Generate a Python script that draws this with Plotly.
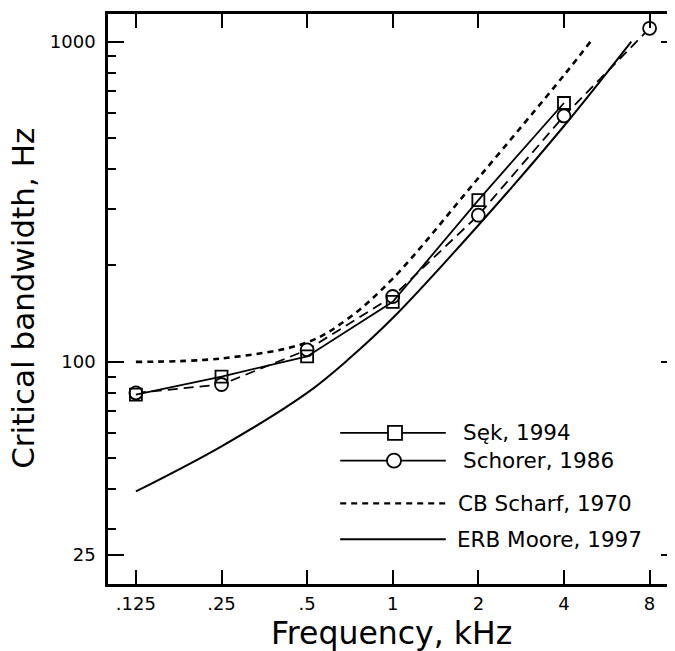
import math
import plotly.graph_objects as go

# ---------------- data ----------------
freq_khz = [0.125, 0.25, 0.5, 1, 2, 4, 8]

sek_f = [0.125, 0.25, 0.5, 1, 2, 4]
sek_bw = [79, 90, 104, 154, 320, 643]

schorer_f = [0.125, 0.25, 0.5, 1, 2, 4, 8]
schorer_bw = [80, 85, 109, 160, 287, 586, 1100]

scharf_f = [0.125, 0.25, 0.5, 0.7, 1, 2, 4, 4.96]
scharf_bw = [100, 102.5, 115, 137, 182, 375, 785, 1000]

erb_f = [0.125, 0.25, 0.5, 0.7, 1, 2, 4, 6.9]
erb_bw = [39.4, 54.5, 80, 102, 137, 267, 545, 1000]

x_ticktext = [".125", ".25", ".5", "1", "2", "4", "8"]
y_tickvals = [25, 100, 1000]
y_ticktext = ["25", "100", "1000"]
y_minor = [30, 40, 50, 60, 70, 80, 90, 200, 300, 400, 500, 600, 700, 800, 900]

legend_labels = ["Sęk, 1994", "Schorer, 1986", "CB Scharf, 1970", "ERB Moore, 1997"]

# ---------------- layout geometry ----------------
# The page body adds an 8px offset, so figure pixels = screen pixels - 8.
OFF = 8
W, H = 675, 651
SCR_L, SCR_R, SCR_T, SCR_B = 108, 679, 11, 584   # plot frame in screen pixels
L, T = SCR_L - OFF, SCR_T - OFF
R = W - (SCR_R - OFF)
B = H - (SCR_B - OFF)
PW, PH = SCR_R - SCR_L, SCR_B - SCR_T
FONT = "DejaVu Sans"

x_lo = math.log10(0.125) - (136 - SCR_L) / 285.4
x_hi = x_lo + PW / 285.4
y_hi = 2 + (360.7 - SCR_T) / 322.0
y_lo = 2 - (SCR_B - 360.7) / 322.0


def px(xs):
    return (xs - SCR_L) / PW


def py(ys):
    return (SCR_B - ys) / PH


fig = go.Figure()

sch_dash = "10px,6px"
scf_dash = "6px,5px"

fig.add_trace(go.Scatter(x=scharf_f, y=scharf_bw, mode="lines", line_shape="spline",
                         line=dict(color="black", width=2.6, dash=scf_dash), showlegend=False))
fig.add_trace(go.Scatter(x=erb_f, y=erb_bw, mode="lines", line_shape="spline",
                         line=dict(color="black", width=2), showlegend=False))
fig.add_trace(go.Scatter(x=schorer_f, y=schorer_bw, mode="lines+markers",
                         line=dict(color="black", width=1.8, dash=sch_dash),
                         marker=dict(symbol="circle", size=13, color="white",
                                     line=dict(color="black", width=1.8)),
                         showlegend=False))
fig.add_trace(go.Scatter(x=sek_f, y=sek_bw, mode="lines+markers",
                         line=dict(color="black", width=1.8),
                         marker=dict(symbol="square", size=12, color="rgba(255,255,255,0)",
                                     line=dict(color="black", width=1.8)),
                         showlegend=False))

# ---------------- custom legend on a screen-pixel overlay axis ----------------
leg_y = [432, 460, 503, 539]
leg_x0, leg_x1 = 341, 447
leg_text_x = [462, 462, 457, 456]
styles = [dict(dash="solid", width=1.8), dict(dash="solid", width=1.8),
          dict(dash=scf_dash, width=2.4), dict(dash="solid", width=2)]
for i in range(4):
    fig.add_trace(go.Scatter(x=[leg_x0, leg_x1], y=[leg_y[i], leg_y[i]], mode="lines",
                             line=dict(color="black", **styles[i]),
                             xaxis="x2", yaxis="y2", showlegend=False))
fig.add_trace(go.Scatter(x=[396], y=[leg_y[0]], mode="markers", xaxis="x2", yaxis="y2",
                         marker=dict(symbol="square", size=14, color="white",
                                     line=dict(color="black", width=1.8)), showlegend=False))
fig.add_trace(go.Scatter(x=[395], y=[leg_y[1]], mode="markers", xaxis="x2", yaxis="y2",
                         marker=dict(symbol="circle", size=14, color="white",
                                     line=dict(color="black", width=1.8)), showlegend=False))

annotations = []
for i, lab in enumerate(legend_labels):
    annotations.append(dict(x=leg_text_x[i], y=leg_y[i], xref="x2", yref="y2", text=lab,
                            showarrow=False, xanchor="left", yanchor="middle",
                            font=dict(family=FONT, size=21.5, color="black")))

# axis titles
annotations.append(dict(x=px(392), y=py(633), xref="paper", yref="paper",
                        text="Frequency, kHz", showarrow=False, xanchor="center", yanchor="middle",
                        font=dict(family=FONT, size=31.5, color="black")))
annotations.append(dict(x=px(22), y=py(297), xref="paper", yref="paper",
                        text="Critical bandwidth, Hz", showarrow=False, textangle=-90,
                        xanchor="center", yanchor="middle",
                        font=dict(family=FONT, size=31, color="black")))

fig.update_layout(
    width=W, height=H,
    margin=dict(l=L, r=R, t=T, b=B, pad=0),
    paper_bgcolor="white", plot_bgcolor="white",
    showlegend=False,
    annotations=annotations,
    xaxis=dict(type="log", range=[x_lo, x_hi], tickmode="array", tickvals=freq_khz,
               ticktext=x_ticktext, ticks="inside", ticklen=14, tickwidth=2, tickcolor="black",
               showline=True, linewidth=2.5, linecolor="black", mirror="ticks",
               showgrid=False, zeroline=False, ticklabelstandoff=2,
               tickfont=dict(family=FONT, size=18, color="black")),
    yaxis=dict(type="log", range=[y_lo, y_hi], tickmode="array", tickvals=y_tickvals,
               ticktext=y_ticktext, ticks="inside", ticklen=16, tickwidth=2, tickcolor="black",
               showline=True, linewidth=2.5, linecolor="black", mirror="ticks",
               showgrid=False, zeroline=False, ticklabelstandoff=6,
               minor=dict(tickmode="array", tickvals=y_minor, ticks="inside", ticklen=8,
                          tickwidth=2, tickcolor="black", showgrid=False),
               tickfont=dict(family=FONT, size=18, color="black")),
    xaxis2=dict(overlaying="x", range=[SCR_L, SCR_R], visible=False, fixedrange=True),
    yaxis2=dict(overlaying="y", range=[SCR_B, SCR_T], visible=False, fixedrange=True),
)

fig.write_html("out.html")
